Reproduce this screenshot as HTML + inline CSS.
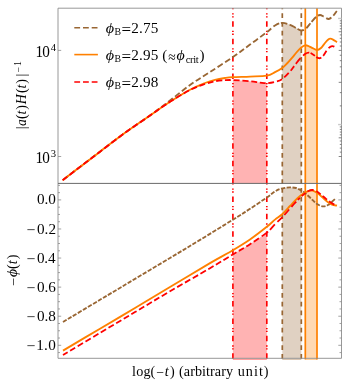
<!DOCTYPE html>
<html><head><meta charset="utf-8"><title>plot</title>
<style>html,body{margin:0;padding:0;background:#fff;overflow:hidden}body{width:349px;height:383px;position:relative;font-family:"Liberation Serif",serif}</style></head>
<body>
<svg width="349" height="383" viewBox="0 0 349 383" style="position:absolute;left:0;top:0">
<rect width="349" height="383" fill="#fff"/>
<path d="M232.90,183.40 L232.90,80.10 L233.77,80.14 L234.64,80.18 L235.51,80.22 L236.38,80.27 L237.25,80.31 L238.12,80.36 L238.98,80.41 L239.85,80.47 L240.72,80.52 L241.59,80.57 L242.46,80.63 L243.33,80.69 L244.20,80.75 L245.07,80.81 L245.94,80.87 L246.81,80.94 L247.68,81.00 L248.55,81.07 L249.42,81.15 L250.28,81.23 L251.15,81.32 L252.02,81.41 L252.89,81.52 L253.76,81.64 L254.63,81.77 L255.50,81.91 L256.37,82.05 L257.24,82.19 L258.11,82.33 L258.98,82.46 L259.85,82.58 L260.72,82.69 L261.58,82.81 L262.45,82.93 L263.32,83.05 L264.19,83.15 L265.06,83.21 L265.93,83.23 L266.80,83.20 L266.80,183.40 Z" fill="#ffb3b3"/>
<path d="M282.30,183.40 L282.30,22.90 L282.79,22.90 L283.27,22.92 L283.76,22.97 L284.25,23.04 L284.74,23.13 L285.22,23.24 L285.71,23.36 L286.20,23.49 L286.68,23.64 L287.17,23.79 L287.66,23.95 L288.15,24.12 L288.63,24.30 L289.12,24.47 L289.61,24.65 L290.09,24.84 L290.58,25.03 L291.07,25.25 L291.56,25.48 L292.04,25.73 L292.53,26.00 L293.02,26.28 L293.51,26.57 L293.99,26.86 L294.48,27.15 L294.97,27.44 L295.45,27.71 L295.94,27.97 L296.43,28.23 L296.92,28.50 L297.40,28.79 L297.89,29.08 L298.38,29.37 L298.86,29.65 L299.35,29.90 L299.84,30.13 L300.33,30.31 L300.81,30.44 L301.30,30.50 L301.30,183.40 Z" fill="#e0d1c2"/>
<path d="M305.30,183.40 L305.30,45.32 L305.60,45.29 L305.90,45.29 L306.20,45.30 L306.50,45.34 L306.80,45.40 L307.10,45.48 L307.40,45.58 L307.70,45.69 L308.00,45.80 L308.30,45.92 L308.60,46.06 L308.90,46.20 L309.20,46.36 L309.50,46.51 L309.80,46.67 L310.10,46.83 L310.40,46.99 L310.70,47.15 L311.00,47.31 L311.30,47.46 L311.60,47.61 L311.90,47.75 L312.20,47.90 L312.50,48.05 L312.80,48.21 L313.10,48.38 L313.40,48.54 L313.70,48.71 L314.00,48.88 L314.30,49.04 L314.60,49.20 L314.90,49.35 L315.20,49.49 L315.50,49.62 L315.80,49.74 L316.10,49.84 L316.40,49.92 L316.70,49.98 L317.00,50.00 L317.00,183.40 Z" fill="#ffd9b3"/>
<path d="M232.90,358.30 L232.90,254.40 L233.77,253.88 L234.64,253.36 L235.51,252.85 L236.38,252.34 L237.25,251.83 L238.12,251.32 L238.98,250.82 L239.85,250.31 L240.72,249.81 L241.59,249.30 L242.46,248.79 L243.33,248.28 L244.20,247.77 L245.07,247.25 L245.94,246.73 L246.81,246.20 L247.68,245.67 L248.55,245.12 L249.42,244.57 L250.28,244.02 L251.15,243.46 L252.02,242.89 L252.89,242.33 L253.76,241.76 L254.63,241.18 L255.50,240.61 L256.37,240.03 L257.24,239.45 L258.11,238.86 L258.98,238.27 L259.85,237.67 L260.72,237.07 L261.58,236.46 L262.45,235.84 L263.32,235.22 L264.19,234.59 L265.06,233.94 L265.93,233.28 L266.80,232.60 L266.80,358.30 Z" fill="#ffb3b3"/>
<path d="M282.30,358.30 L282.30,188.31 L282.79,188.20 L283.27,188.10 L283.76,188.01 L284.25,187.92 L284.74,187.84 L285.22,187.77 L285.71,187.70 L286.20,187.63 L286.68,187.58 L287.17,187.53 L287.66,187.49 L288.15,187.45 L288.63,187.43 L289.12,187.41 L289.61,187.40 L290.09,187.40 L290.58,187.40 L291.07,187.41 L291.56,187.43 L292.04,187.45 L292.53,187.48 L293.02,187.51 L293.51,187.56 L293.99,187.61 L294.48,187.68 L294.97,187.76 L295.45,187.86 L295.94,187.98 L296.43,188.13 L296.92,188.29 L297.40,188.48 L297.89,188.69 L298.38,188.91 L298.86,189.15 L299.35,189.40 L299.84,189.66 L300.33,189.93 L300.81,190.20 L301.30,190.47 L301.30,358.30 Z" fill="#e0d1c2"/>
<path d="M305.30,358.30 L305.30,192.44 L305.60,192.27 L305.90,192.11 L306.20,191.95 L306.50,191.79 L306.80,191.64 L307.10,191.49 L307.40,191.35 L307.70,191.21 L308.00,191.08 L308.30,190.96 L308.60,190.85 L308.90,190.75 L309.20,190.67 L309.50,190.59 L309.80,190.53 L310.10,190.49 L310.40,190.46 L310.70,190.44 L311.00,190.44 L311.30,190.45 L311.60,190.48 L311.90,190.52 L312.20,190.57 L312.50,190.63 L312.80,190.70 L313.10,190.79 L313.40,190.88 L313.70,190.99 L314.00,191.10 L314.30,191.22 L314.60,191.34 L314.90,191.48 L315.20,191.63 L315.50,191.80 L315.80,191.97 L316.10,192.16 L316.40,192.35 L316.70,192.56 L317.00,192.77 L317.00,358.30 Z" fill="#ffd9b3"/>
<path d="M232.9,8.2 V183.4" stroke="#ff0000" stroke-width="1.65" fill="none" stroke-dasharray="5.5 4.0 1.3 1.6 1.3 3.73" stroke-dashoffset="4.43"/>
<path d="M232.9,183.4 V359.40000000000003" stroke="#ff0000" stroke-width="1.65" fill="none" stroke-dasharray="5.5 4.0 1.3 1.6 1.3 3.73" stroke-dashoffset="4.43"/>
<path d="M266.8,8.2 V183.4" stroke="#ff0000" stroke-width="1.65" fill="none" stroke-dasharray="5.5 4.0 1.3 1.6 1.3 3.73" stroke-dashoffset="4.43"/>
<path d="M266.8,183.4 V359.40000000000003" stroke="#ff0000" stroke-width="1.65" fill="none" stroke-dasharray="5.5 4.0 1.3 1.6 1.3 3.73" stroke-dashoffset="4.43"/>
<path d="M282.3,8.2 V183.4" stroke="#996633" stroke-width="1.7" fill="none" stroke-dasharray="4.75 3.985" stroke-dashoffset="3.735"/>
<path d="M282.3,183.4 V359.40000000000003" stroke="#996633" stroke-width="1.7" fill="none" stroke-dasharray="4.75 3.985" stroke-dashoffset="4.035"/>
<path d="M301.3,8.2 V183.4" stroke="#996633" stroke-width="1.7" fill="none" stroke-dasharray="4.75 3.985" stroke-dashoffset="3.735"/>
<path d="M301.3,183.4 V359.40000000000003" stroke="#996633" stroke-width="1.7" fill="none" stroke-dasharray="4.75 3.985" stroke-dashoffset="4.035"/>
<path d="M305.3,8.2 V183.4" stroke="#ff8000" stroke-width="1.7" fill="none"/>
<path d="M305.3,183.4 V359.40000000000003" stroke="#ff8000" stroke-width="1.7" fill="none"/>
<path d="M317.0,8.2 V183.4" stroke="#ff8000" stroke-width="1.7" fill="none"/>
<path d="M317.0,183.4 V359.40000000000003" stroke="#ff8000" stroke-width="1.7" fill="none"/>
<path d="M232.9,359.25 H266.8" stroke="#ff0000" stroke-width="1" stroke-opacity="0.5" fill="none"/>
<path d="M282.3,359.25 H301.3" stroke="#996633" stroke-width="1" stroke-opacity="0.5" fill="none"/>
<path d="M305.3,359.25 H317.0" stroke="#ff8000" stroke-width="1" stroke-opacity="0.5" fill="none"/>
<path d="M62.60,180.20 C65.50,177.98 73.77,171.65 80.00,166.90 C86.23,162.15 92.50,157.38 100.00,151.70 C107.50,146.02 116.67,138.83 125.00,132.80 C133.33,126.77 142.50,120.88 150.00,115.50 C157.50,110.12 163.33,105.58 170.00,100.50 C176.67,95.42 183.33,89.75 190.00,85.00 C196.67,80.25 202.85,76.65 210.00,72.00 C217.15,67.35 226.23,61.67 232.90,57.10 C239.57,52.53 244.35,48.75 250.00,44.60 C255.65,40.45 262.63,35.38 266.80,32.20 C270.97,29.02 272.43,27.05 275.00,25.50 C277.57,23.95 279.70,23.02 282.20,22.90 C284.70,22.78 287.70,23.95 290.00,24.80 C292.30,25.65 294.12,27.05 296.00,28.00 C297.88,28.95 299.63,30.42 301.30,30.50 C302.97,30.58 304.38,29.83 306.00,28.50 C307.62,27.17 309.33,24.42 311.00,22.50 C312.67,20.58 314.50,18.25 316.00,17.00 C317.50,15.75 318.67,15.03 320.00,15.00 C321.33,14.97 322.55,16.13 324.00,16.80 C325.45,17.47 327.20,19.13 328.70,19.00 C330.20,18.87 331.65,17.33 333.00,16.00 C334.35,14.67 336.17,11.83 336.80,11.00" stroke="#996633" stroke-width="1.85" fill="none" stroke-dasharray="0.00 1.53 5.89 2.77 5.89 2.77 5.89 2.77 5.89 2.77 5.89 2.77 5.89 2.77 5.89 2.77 5.89 2.77 5.89 2.77 5.89 2.77 5.89 2.77 5.89 2.77 5.89 2.77 5.89 2.77 5.89 2.77 5.89 2.77 5.89 2.77 5.89 2.77 5.89 2.77 5.89 2.77 5.89 2.77 5.89 2.77 5.89 2.77 5.89 2.77 5.89 2.77 5.89 2.77 5.89 2.77 5.89 2.77 5.89 2.77 5.37 2.90 6.63 1.75 6.42 2.44 7.12 1.95 6.77 3.05 6.33 1.86 6.67 2.23 6.21 3.01 5.67 2.77 6.00 50.00" stroke-linejoin="round"/>
<path d="M62.60,180.20 C65.50,177.98 73.77,171.65 80.00,166.90 C86.23,162.15 92.50,157.38 100.00,151.70 C107.50,146.02 116.67,138.83 125.00,132.80 C133.33,126.77 142.50,120.67 150.00,115.50 C157.50,110.33 163.33,106.10 170.00,101.80 C176.67,97.50 184.17,92.83 190.00,89.70 C195.83,86.57 200.83,84.65 205.00,83.00 C209.17,81.35 211.67,80.63 215.00,79.80 C218.33,78.97 222.02,78.43 225.00,78.00 C227.98,77.57 228.73,77.43 232.90,77.20 C237.07,76.97 244.35,76.85 250.00,76.60 C255.65,76.35 262.63,76.43 266.80,75.70 C270.97,74.97 272.43,73.48 275.00,72.20 C277.57,70.92 280.20,69.45 282.20,68.00 C284.20,66.55 285.37,65.18 287.00,63.50 C288.63,61.82 290.50,59.65 292.00,57.90 C293.50,56.15 294.67,54.55 296.00,53.00 C297.33,51.45 298.83,49.73 300.00,48.60 C301.17,47.47 302.08,46.75 303.00,46.20 C303.92,45.65 304.67,45.37 305.50,45.30 C306.33,45.23 306.92,45.38 308.00,45.80 C309.08,46.22 310.50,47.10 312.00,47.80 C313.50,48.50 315.50,49.97 317.00,50.00 C318.50,50.03 319.67,49.17 321.00,48.00 C322.33,46.83 323.83,44.37 325.00,43.00 C326.17,41.63 327.12,40.52 328.00,39.80 C328.88,39.08 329.47,38.73 330.30,38.70 C331.13,38.67 331.88,39.02 333.00,39.60 C334.12,40.18 336.33,41.77 337.00,42.20" stroke="#ff8000" stroke-width="1.85" fill="none" stroke-linejoin="round"/>
<path d="M62.60,180.20 C65.50,177.98 73.77,171.65 80.00,166.90 C86.23,162.15 92.50,157.38 100.00,151.70 C107.50,146.02 116.67,138.83 125.00,132.80 C133.33,126.77 142.50,120.67 150.00,115.50 C157.50,110.33 163.33,106.05 170.00,101.80 C176.67,97.55 184.17,92.97 190.00,90.00 C195.83,87.03 200.83,85.47 205.00,84.00 C209.17,82.53 211.67,81.83 215.00,81.20 C218.33,80.57 222.02,80.38 225.00,80.20 C227.98,80.02 228.73,79.93 232.90,80.10 C237.07,80.27 245.48,80.78 250.00,81.20 C254.52,81.62 257.20,82.27 260.00,82.60 C262.80,82.93 264.30,83.33 266.80,83.20 C269.30,83.07 272.43,82.50 275.00,81.80 C277.57,81.10 279.70,80.72 282.20,79.00 C284.70,77.28 287.87,73.83 290.00,71.50 C292.13,69.17 293.33,67.13 295.00,65.00 C296.67,62.87 298.33,60.53 300.00,58.70 C301.67,56.87 303.50,55.02 305.00,54.00 C306.50,52.98 307.67,52.52 309.00,52.60 C310.33,52.68 311.37,53.57 313.00,54.50 C314.63,55.43 317.13,57.95 318.80,58.20 C320.47,58.45 321.63,57.37 323.00,56.00 C324.37,54.63 325.83,51.50 327.00,50.00 C328.17,48.50 329.08,47.65 330.00,47.00 C330.92,46.35 331.75,46.13 332.50,46.10 C333.25,46.07 334.17,46.68 334.50,46.80" stroke="#ff0000" stroke-width="1.8" fill="none" stroke-dasharray="6.04 2.72 6.04 2.72 6.04 2.72 6.04 2.72 6.04 2.72 6.04 2.72 6.04 2.72 6.04 2.72 6.04 2.72 6.04 2.72 6.04 2.72 6.04 2.72 6.04 2.72 6.04 2.72 6.04 2.72 6.04 2.72 6.04 2.72 6.04 2.72 6.04 2.72 6.04 2.72 6.04 2.72 6.04 2.72 6.04 2.72 6.04 2.72 6.04 2.72 6.04 2.72 6.04 2.53 5.79 3.00 5.57 2.93 6.08 2.97 5.81 2.81 7.48 3.55 7.11 1.37 5.23 1.63 5.50 2.55 5.84 3.09 6.68 50.56" stroke-linejoin="round"/>
<path d="M63.00,322.00 C69.17,318.30 88.83,306.48 100.00,299.80 C111.17,293.12 118.33,288.87 130.00,281.90 C141.67,274.93 158.33,265.00 170.00,258.00 C181.67,251.00 189.52,246.28 200.00,239.90 C210.48,233.52 224.57,224.88 232.90,219.70 C241.23,214.52 244.35,212.50 250.00,208.80 C255.65,205.10 262.63,200.38 266.80,197.50 C270.97,194.62 272.80,192.92 275.00,191.50 C277.20,190.08 278.33,189.62 280.00,189.00 C281.67,188.38 283.27,188.07 285.00,187.80 C286.73,187.53 288.57,187.37 290.40,187.40 C292.23,187.43 294.23,187.52 296.00,188.00 C297.77,188.48 299.50,189.47 301.00,190.30 C302.50,191.13 303.33,191.63 305.00,193.00 C306.67,194.37 309.00,196.67 311.00,198.50 C313.00,200.33 314.97,202.68 317.00,204.00 C319.03,205.32 321.37,206.23 323.20,206.40 C325.03,206.57 326.53,205.77 328.00,205.00 C329.47,204.23 330.63,202.97 332.00,201.80 C333.37,200.63 335.50,198.63 336.20,198.00" stroke="#996633" stroke-width="1.85" fill="none" stroke-dasharray="4.30 1.51 4.30 1.51 4.30 1.51 4.30 1.51 4.30 1.51 4.30 1.51 4.30 1.51 4.30 1.51 4.30 1.51 4.30 1.51 4.30 1.51 4.30 1.51 4.30 1.51 4.30 1.51 4.30 1.51 4.30 1.51 4.30 1.51 4.30 1.51 4.30 1.51 4.30 1.51 4.30 1.51 4.30 1.51 4.30 1.51 4.30 1.51 4.30 1.51 4.30 1.51 4.30 1.51 4.30 1.51 4.30 1.51 4.30 1.51 4.30 1.51 4.30 1.51 4.30 1.51 4.30 1.51 4.30 1.51 4.30 1.51 4.30 1.51 4.30 1.51 4.30 1.51 4.30 1.51 4.30 1.51 4.30 1.51 4.30 1.51 4.30 1.51 4.30 1.51 4.30 1.51 4.30 1.51 4.30 1.51 4.30 1.51 4.30 1.51 4.30 1.51 4.30 1.51 4.30 1.51 4.30 1.51 4.30 1.51 0.11 50.00" stroke-linejoin="round"/>
<path d="M63.00,350.60 C69.17,346.95 88.00,335.80 100.00,328.70 C112.00,321.60 123.33,314.95 135.00,308.00 C146.67,301.05 157.50,294.48 170.00,287.00 C182.50,279.52 199.52,269.23 210.00,263.10 C220.48,256.97 226.23,254.13 232.90,250.20 C239.57,246.27 244.35,243.40 250.00,239.50 C255.65,235.60 262.63,230.12 266.80,226.80 C270.97,223.48 272.43,221.70 275.00,219.60 C277.57,217.50 279.70,216.47 282.20,214.20 C284.70,211.93 287.87,208.27 290.00,206.00 C292.13,203.73 293.33,202.27 295.00,200.60 C296.67,198.93 298.33,197.33 300.00,196.00 C301.67,194.67 303.33,193.52 305.00,192.60 C306.67,191.68 308.42,190.72 310.00,190.50 C311.58,190.28 313.00,190.67 314.50,191.30 C316.00,191.93 317.47,193.08 319.00,194.30 C320.53,195.52 322.20,197.28 323.70,198.60 C325.20,199.92 326.62,201.20 328.00,202.20 C329.38,203.20 330.50,204.02 332.00,204.60 C333.50,205.18 336.17,205.52 337.00,205.70" stroke="#ff8000" stroke-width="1.85" fill="none" stroke-linejoin="round"/>
<path d="M63.00,355.00 C69.17,351.32 88.00,340.05 100.00,332.90 C112.00,325.75 123.33,319.03 135.00,312.10 C146.67,305.17 157.50,298.62 170.00,291.30 C182.50,283.98 199.52,274.35 210.00,268.20 C220.48,262.05 226.23,258.40 232.90,254.40 C239.57,250.40 244.35,247.83 250.00,244.20 C255.65,240.57 262.63,235.92 266.80,232.60 C270.97,229.28 272.43,226.85 275.00,224.30 C277.57,221.75 279.70,219.93 282.20,217.30 C284.70,214.67 287.87,210.92 290.00,208.50 C292.13,206.08 293.33,204.58 295.00,202.80 C296.67,201.02 298.33,199.37 300.00,197.80 C301.67,196.23 303.50,194.57 305.00,193.40 C306.50,192.23 307.75,191.37 309.00,190.80 C310.25,190.23 311.25,189.92 312.50,190.00 C313.75,190.08 315.08,190.53 316.50,191.30 C317.92,192.07 319.45,193.38 321.00,194.60 C322.55,195.82 324.30,197.37 325.80,198.60 C327.30,199.83 328.42,200.88 330.00,202.00 C331.58,203.12 334.42,204.75 335.30,205.30" stroke="#ff0000" stroke-width="1.8" fill="none" stroke-dasharray="5.54 2.80 6.10 2.80 6.10 2.80 6.10 2.80 6.10 2.80 6.10 2.80 6.10 2.80 6.10 2.80 6.10 2.80 6.10 2.80 6.10 2.80 6.10 2.80 6.10 2.80 6.10 2.80 6.10 2.80 6.10 2.80 6.10 2.80 6.10 2.80 6.10 2.80 6.10 2.80 6.10 2.80 6.10 2.80 6.10 2.80 6.10 2.80 6.10 2.80 6.10 3.37 7.91 2.59 7.40 3.48 7.15 2.82 6.99 3.49 7.35 2.28 3.06 2.32 4.98 2.21 6.79 2.68 5.42 2.44 5.75 2.73 5.97 51.52" stroke-linejoin="round"/>
<path d="M58.0,8.2 H341.5 V358.3 H58.0 Z" fill="none" stroke="#8c8c8c" stroke-width="0.9"/>
<path d="M58.0,183.4 H341.5" stroke="#6a6a6a" stroke-width="1.0"/>
<path d="M58.0,50.4 h3.2 M58.0,156.5 h3.2 M58.0,185.36 h2 M341.5,185.36 h-2 M58.0,192.63 h2 M341.5,192.63 h-2 M58.0,199.90 h3.2 M341.5,199.90 h-3.2 M58.0,207.17 h2 M341.5,207.17 h-2 M58.0,214.44 h2 M341.5,214.44 h-2 M58.0,221.71 h2 M341.5,221.71 h-2 M58.0,228.98 h3.2 M341.5,228.98 h-3.2 M58.0,236.25 h2 M341.5,236.25 h-2 M58.0,243.52 h2 M341.5,243.52 h-2 M58.0,250.79 h2 M341.5,250.79 h-2 M58.0,258.06 h3.2 M341.5,258.06 h-3.2 M58.0,265.33 h2 M341.5,265.33 h-2 M58.0,272.60 h2 M341.5,272.60 h-2 M58.0,279.87 h2 M341.5,279.87 h-2 M58.0,287.14 h3.2 M341.5,287.14 h-3.2 M58.0,294.41 h2 M341.5,294.41 h-2 M58.0,301.68 h2 M341.5,301.68 h-2 M58.0,308.95 h2 M341.5,308.95 h-2 M58.0,316.22 h3.2 M341.5,316.22 h-3.2 M58.0,323.49 h2 M341.5,323.49 h-2 M58.0,330.76 h2 M341.5,330.76 h-2 M58.0,338.03 h2 M341.5,338.03 h-2 M58.0,345.30 h3.2 M341.5,345.30 h-3.2 M58.0,352.57 h2 M341.5,352.57 h-2" stroke="#8c8c8c" stroke-width="0.8" fill="none"/>
<path d="M341.5,152.11 h-1.7 M341.5,148.10 h-1.7 M341.5,144.41 h-1.7 M341.5,141.00 h-1.7 M341.5,134.84 h-1.7 M341.5,132.05 h-1.7 M341.5,129.42 h-1.7 M341.5,126.92 h-1.7 M341.5,105.88 h-1.7 M341.5,92.62 h-1.7 M341.5,73.94 h-1.7 M341.5,66.84 h-1.7 M341.5,60.68 h-1.7 M341.5,55.25 h-1.7 M341.5,46.01 h-1.7 M341.5,42.00 h-1.7 M341.5,38.31 h-1.7 M341.5,34.90 h-1.7 M341.5,28.74 h-1.7 M341.5,25.95 h-1.7 M341.5,23.32 h-1.7 M341.5,20.82 h-1.7 M341.5,156.50 h-2.8 M341.5,137.82 h-2.8 M341.5,82.34 h-2.8 M341.5,50.40 h-2.8 M341.5,31.72 h-2.8" stroke="#5a5a5a" stroke-width="0.75" fill="none"/>
<path d="M341.5,124.56 h-3.4" stroke="#c8c8c8" stroke-width="1.4" fill="none"/>
<path d="M341.5,18.46 h-3.4" stroke="#c8c8c8" stroke-width="1.4" fill="none"/>
<path d="M74.3,27.7 H97.9" stroke="#996633" stroke-width="1.6" fill="none" stroke-dasharray="5.8 2.9"/>
<path d="M74.3,54.6 H97.9" stroke="#ff8000" stroke-width="1.6" fill="none"/>
<path d="M74.3,82.0 H97.9" stroke="#ff0000" stroke-width="1.6" fill="none" stroke-dasharray="5.8 2.9"/>
<g font-family="Liberation Serif, serif" fill="#000" style="opacity:0.99">
<text transform="translate(105.73,32.50) scale(1.0611,1)" font-size="15.2" font-style="italic">ϕ</text>
<text transform="translate(114.52,34.70) scale(0.9284,1)" font-size="10.6">B</text>
<text transform="translate(121.55,34.80) scale(1.1169,1.1)" font-size="15.2">=</text>
<text transform="translate(131.23,32.50) scale(1.0000,1)" font-size="15.2" letter-spacing="0.154">2.75</text>
<text transform="translate(105.73,59.80) scale(1.0611,1)" font-size="15.2" font-style="italic">ϕ</text>
<text transform="translate(114.52,62.00) scale(0.9284,1)" font-size="10.6">B</text>
<text transform="translate(121.55,62.10) scale(1.1169,1.1)" font-size="15.2">=</text>
<text transform="translate(131.23,59.80) scale(1.0000,1)" font-size="15.2" letter-spacing="0.154">2.95</text>
<text transform="translate(162.18,59.80) scale(1.0000,1)" font-size="15.2">(</text>
<text transform="translate(168.22,62.10) scale(0.8964,1)" font-size="15.2">≈</text>
<text transform="translate(176.43,59.80) scale(1.0472,1)" font-size="15.2" font-style="italic">ϕ</text>
<text transform="translate(185.70,62.80) scale(1.0000,1)" font-size="10.6" letter-spacing="-0.353">crit</text>
<text transform="translate(199.61,59.80) scale(1.0000,1)" font-size="15.2">)</text>
<text transform="translate(105.73,87.10) scale(1.0611,1)" font-size="15.2" font-style="italic">ϕ</text>
<text transform="translate(114.52,89.30) scale(0.9284,1)" font-size="10.6">B</text>
<text transform="translate(121.55,89.40) scale(1.1169,1.1)" font-size="15.2">=</text>
<text transform="translate(131.23,87.10) scale(1.0000,1)" font-size="15.2" letter-spacing="0.149">2.98</text>
<text transform="translate(35.56,56.60) scale(1.0000,1.06)" font-size="15.2" letter-spacing="-0.785">10</text>
<text transform="translate(50.73,50.80) scale(1.0000,1)" font-size="10.6">4</text>
<text transform="translate(35.56,162.50) scale(1.0000,1.06)" font-size="15.2" letter-spacing="-0.785">10</text>
<text transform="translate(50.70,156.70) scale(1.0000,1)" font-size="10.6">3</text>
<text transform="translate(36.92,204.45) scale(1.0000,1)" font-size="15.2" letter-spacing="-0.021">0.0</text>
<text transform="translate(26.52,234.53) scale(1.0321,1)" font-size="15.2">−</text>
<text transform="translate(36.92,233.53) scale(1.0000,1)" font-size="15.2" letter-spacing="0.109">0.2</text>
<text transform="translate(26.52,263.61) scale(1.0321,1)" font-size="15.2">−</text>
<text transform="translate(36.92,262.61) scale(1.0000,1)" font-size="15.2" letter-spacing="-0.192">0.4</text>
<text transform="translate(26.52,292.69) scale(1.0321,1)" font-size="15.2">−</text>
<text transform="translate(36.92,291.69) scale(1.0000,1)" font-size="15.2" letter-spacing="-0.084">0.6</text>
<text transform="translate(26.52,321.77) scale(1.0321,1)" font-size="15.2">−</text>
<text transform="translate(36.92,320.77) scale(1.0000,1)" font-size="15.2" letter-spacing="-0.021">0.8</text>
<text transform="translate(26.52,350.85) scale(1.0321,1)" font-size="15.2">−</text>
<text transform="translate(36.16,349.85) scale(1.0000,1)" font-size="15.2" letter-spacing="0.357">1.0</text>
<text transform="translate(132.12,376.30) scale(1.0000,1)" font-size="14.2" letter-spacing="0.123">log(</text>
<text transform="translate(156.12,377.20) scale(0.9686,1)" font-size="14.2">−</text>
<text transform="translate(164.72,376.30) scale(1.0000,1)" font-size="14.2" font-style="italic">t</text>
<text transform="translate(169.97,376.30) scale(1.0000,1)" font-size="14.2">)</text>
<text transform="translate(179.08,376.30) scale(1.0000,1)" font-size="14.2" letter-spacing="0.041">(arbitrary</text>
<text transform="translate(237.71,376.30) scale(1.0000,1)" font-size="14.2" letter-spacing="1.023">unit)</text>
<text transform="translate(25.80,129.32) rotate(-90) scale(1.0000,1)" font-size="14.2">|</text>
<text transform="translate(25.80,126.01) rotate(-90) scale(0.9604,1)" font-size="14.2" font-style="italic">a</text>
<text transform="translate(25.80,119.05) rotate(-90) scale(1.0000,1)" font-size="14.2">(</text>
<text transform="translate(25.80,114.43) rotate(-90) scale(1.0000,1)" font-size="14.2" font-style="italic">t</text>
<text transform="translate(25.80,109.68) rotate(-90) scale(1.0000,1)" font-size="14.2">)</text>
<text transform="translate(25.80,104.15) rotate(-90) scale(0.9778,1)" font-size="14.2" font-style="italic">H</text>
<text transform="translate(25.80,92.90) rotate(-90) scale(1.0000,1)" font-size="14.2">(</text>
<text transform="translate(25.80,88.38) rotate(-90) scale(1.0000,1)" font-size="14.2" font-style="italic">t</text>
<text transform="translate(25.80,83.63) rotate(-90) scale(1.0000,1)" font-size="14.2">)</text>
<text transform="translate(25.80,76.42) rotate(-90) scale(1.0000,1)" font-size="14.2">|</text>
<text transform="translate(21.90,72.59) rotate(-90) scale(0.9985,1)" font-size="9.9">−</text>
<text transform="translate(20.70,66.06) rotate(-90) scale(1.0000,1)" font-size="9.9">1</text>
<text transform="translate(17.90,286.13) rotate(-90) scale(1.0291,1)" font-size="14.2">−</text>
<text transform="translate(17.00,276.96) rotate(-90) scale(1.1060,1)" font-size="14.2" font-style="italic">ϕ</text>
<text transform="translate(17.00,268.90) rotate(-90) scale(1.0000,1)" font-size="14.2">(</text>
<text transform="translate(17.00,264.13) rotate(-90) scale(1.0000,1)" font-size="14.2" font-style="italic">t</text>
<text transform="translate(17.00,259.13) rotate(-90) scale(1.0000,1)" font-size="14.2">)</text>
</g>
</svg>
</body></html>
